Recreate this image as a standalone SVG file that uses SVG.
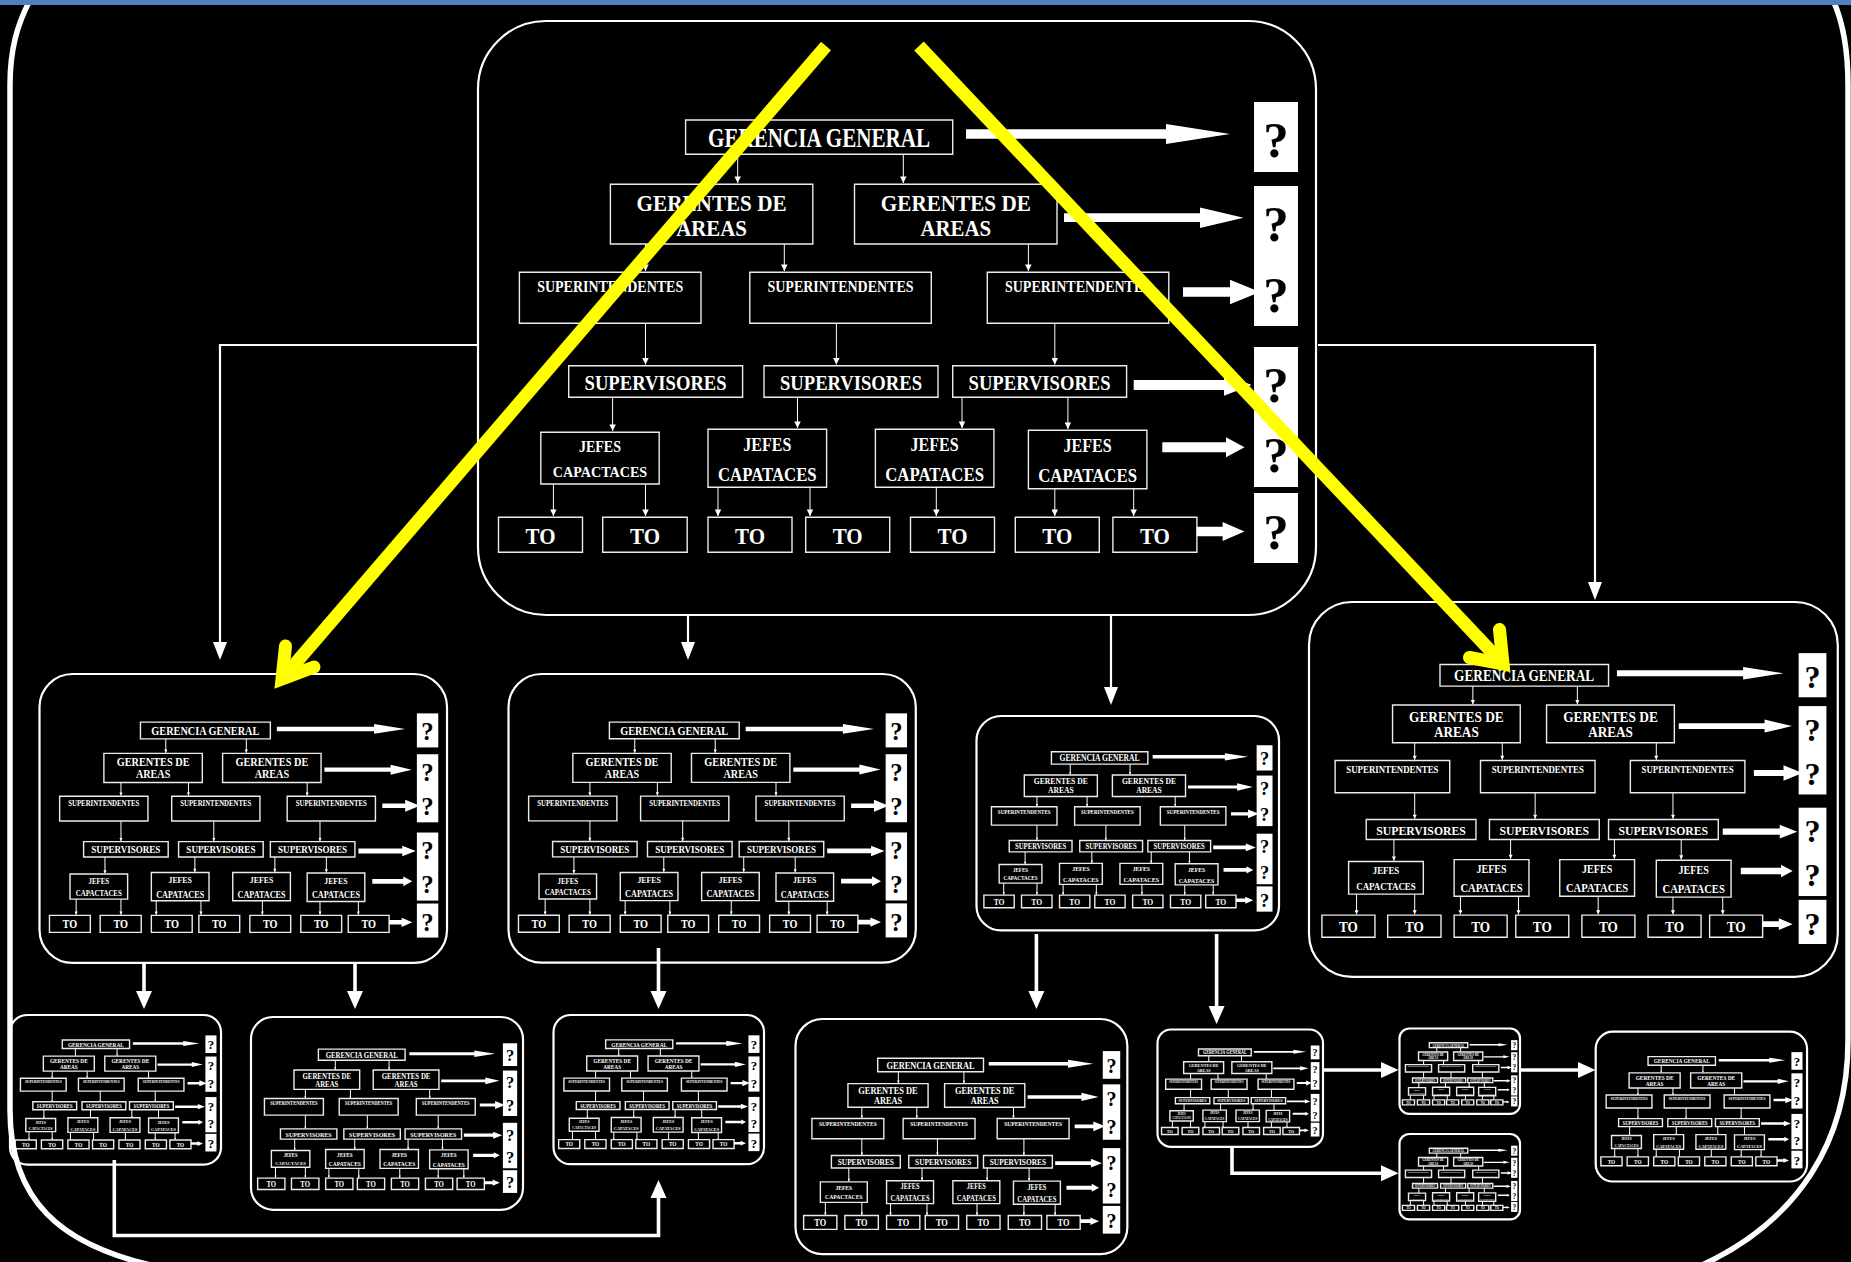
<svg xmlns="http://www.w3.org/2000/svg" width="1851" height="1262" viewBox="0 0 1851 1262">
<defs>
<style>
.bg{fill:#000}
.panel{fill:#000;stroke:#fff;stroke-width:2.2;vector-effect:non-scaling-stroke}
.bx{fill:#000;stroke:#ececec;stroke-width:1.4;vector-effect:non-scaling-stroke}
.t{font-family:"Liberation Serif","Times New Roman",serif;font-weight:bold;fill:#fff;text-anchor:middle}
.qb{fill:#fff}
.qt{font-family:"Liberation Serif","Times New Roman",serif;font-weight:bold;fill:#000;text-anchor:middle;font-size:51px}
.ba{fill:#fff}
.ln{stroke:#fff;stroke-width:1;fill:none;vector-effect:non-scaling-stroke}
.cn{stroke:#fff;stroke-width:2.2;fill:none}
.ck{stroke:#fff;stroke-width:3.6;fill:none}
.ah{fill:#fff}
.frame{fill:none;stroke:#fff;stroke-width:5.5}
.yl{fill:none;stroke:#ffff00;stroke-width:13}
</style>
<marker id="sm" viewBox="0 0 10 10" refX="10" refY="5" markerWidth="8" markerHeight="6.5" orient="auto" markerUnits="userSpaceOnUse">
<path d="M0,0 L10,5 L0,10 z" fill="#fff"/>
</marker>
</defs>
<rect class="bg" x="0" y="0" width="1851" height="1262"/>

<g id="chart-main">
<rect class="panel" x="478" y="21" width="838" height="594" rx="68" ry="68"/>
<g id="inner-links">
<line class="ln" x1="737.7" y1="154.3" x2="737.7" y2="183" marker-end="url(#sm)"/>
<line class="ln" x1="903.3" y1="154.3" x2="903.3" y2="183" marker-end="url(#sm)"/>
<line class="ln" x1="645.5" y1="244" x2="645.5" y2="271" marker-end="url(#sm)"/>
<line class="ln" x1="784.3" y1="244" x2="784.3" y2="271" marker-end="url(#sm)"/>
<line class="ln" x1="1028.4" y1="244" x2="1028.4" y2="271" marker-end="url(#sm)"/>
<line class="ln" x1="645.5" y1="323.3" x2="645.5" y2="364.5" marker-end="url(#sm)"/>
<line class="ln" x1="836.4" y1="323.3" x2="836.4" y2="364.5" marker-end="url(#sm)"/>
<line class="ln" x1="1054.8" y1="323.3" x2="1054.8" y2="364.5" marker-end="url(#sm)"/>
<line class="ln" x1="612.6" y1="397.3" x2="612.6" y2="431" marker-end="url(#sm)"/>
<line class="ln" x1="797.5" y1="397.3" x2="797.5" y2="428" marker-end="url(#sm)"/>
<line class="ln" x1="962" y1="397.3" x2="962" y2="428" marker-end="url(#sm)"/>
<line class="ln" x1="1067.9" y1="397.3" x2="1067.9" y2="429" marker-end="url(#sm)"/>
<line class="ln" x1="553.4" y1="484" x2="553.4" y2="516" marker-end="url(#sm)"/>
<line class="ln" x1="645.5" y1="484" x2="645.5" y2="516" marker-end="url(#sm)"/>
<line class="ln" x1="718" y1="487.3" x2="718" y2="516" marker-end="url(#sm)"/>
<line class="ln" x1="810" y1="487.3" x2="810" y2="516" marker-end="url(#sm)"/>
<line class="ln" x1="936.3" y1="487.3" x2="936.3" y2="516" marker-end="url(#sm)"/>
<line class="ln" x1="1054.8" y1="488.7" x2="1054.8" y2="516" marker-end="url(#sm)"/>
<line class="ln" x1="1133.7" y1="488.7" x2="1133.7" y2="516" marker-end="url(#sm)"/>
</g>
<g id="gg"><rect class="bx" x="685.6" y="120" width="267.1" height="34.3"/><text class="t" x="819" y="146.7" font-size="27.5" textLength="222" lengthAdjust="spacingAndGlyphs">GERENCIA GENERAL</text></g>
<g id="ga1"><rect class="bx" x="610.4" y="184.3" width="202.4" height="59.7"/><text class="t" x="711.6" y="210.7" font-size="23.5" textLength="150" lengthAdjust="spacingAndGlyphs">GERENTES DE</text><text class="t" x="711.6" y="235.7" font-size="23.5" textLength="70.8" lengthAdjust="spacingAndGlyphs">AREAS</text></g>
<g id="ga2"><rect class="bx" x="854.5" y="184.3" width="202.5" height="59.7"/><text class="t" x="955.8" y="210.7" font-size="23.5" textLength="150" lengthAdjust="spacingAndGlyphs">GERENTES DE</text><text class="t" x="955.8" y="235.7" font-size="23.5" textLength="70.8" lengthAdjust="spacingAndGlyphs">AREAS</text></g>
<g id="sup1"><rect class="bx" x="519.4" y="272.3" width="181.6" height="51"/><text class="t" x="610.2" y="291.7" font-size="16" textLength="146" lengthAdjust="spacingAndGlyphs">SUPERINTENDENTES</text></g>
<g id="sup2"><rect class="bx" x="749.8" y="272.3" width="181.5" height="51"/><text class="t" x="840.5" y="291.7" font-size="16" textLength="146" lengthAdjust="spacingAndGlyphs">SUPERINTENDENTES</text></g>
<g id="sup3"><rect class="bx" x="987.3" y="272.3" width="181.5" height="51"/><text class="t" x="1078" y="291.7" font-size="16" textLength="146" lengthAdjust="spacingAndGlyphs">SUPERINTENDENTES</text></g>
<g id="sv1"><rect class="bx" x="568.7" y="365.7" width="173.9" height="31.6"/><text class="t" x="655.6" y="390" font-size="21" textLength="142" lengthAdjust="spacingAndGlyphs">SUPERVISORES</text></g>
<g id="sv2"><rect class="bx" x="764" y="365.7" width="174" height="31.6"/><text class="t" x="851" y="390" font-size="21" textLength="142" lengthAdjust="spacingAndGlyphs">SUPERVISORES</text></g>
<g id="sv3"><rect class="bx" x="952.7" y="365.7" width="173.9" height="31.6"/><text class="t" x="1039.6" y="390" font-size="21" textLength="142" lengthAdjust="spacingAndGlyphs">SUPERVISORES</text></g>
<g id="jf1"><rect class="bx" x="540.8" y="432.3" width="118.4" height="51.7"/><text class="t" x="600" y="452.3" font-size="17" textLength="42" lengthAdjust="spacingAndGlyphs">JEFES</text><text class="t" x="600" y="476.7" font-size="15.5" textLength="94.4" lengthAdjust="spacingAndGlyphs">CAPACTACES</text></g>
<g id="jf2"><rect class="bx" x="708" y="429.3" width="118.6" height="58"/><text class="t" x="767.3" y="451" font-size="19" textLength="48" lengthAdjust="spacingAndGlyphs">JEFES</text><text class="t" x="767.3" y="480.7" font-size="19.5" textLength="98.7" lengthAdjust="spacingAndGlyphs">CAPATACES</text></g>
<g id="jf3"><rect class="bx" x="875.4" y="429.3" width="118.5" height="58"/><text class="t" x="934.6" y="451" font-size="19" textLength="48" lengthAdjust="spacingAndGlyphs">JEFES</text><text class="t" x="934.6" y="480.7" font-size="19.5" textLength="98.7" lengthAdjust="spacingAndGlyphs">CAPATACES</text></g>
<g id="jf4"><rect class="bx" x="1028.4" y="430.3" width="118.5" height="58.4"/><text class="t" x="1087.6" y="452" font-size="19" textLength="48" lengthAdjust="spacingAndGlyphs">JEFES</text><text class="t" x="1087.6" y="482.3" font-size="19.5" textLength="98.7" lengthAdjust="spacingAndGlyphs">CAPATACES</text></g>
<g id="to1"><rect class="bx" x="498.5" y="517.3" width="84" height="35"/><text class="t" x="540.5" y="544" font-size="23.5" textLength="30" lengthAdjust="spacingAndGlyphs">TO</text></g>
<g id="to2"><rect class="bx" x="602.7" y="517.3" width="84.5" height="35"/><text class="t" x="645" y="544" font-size="23.5" textLength="30" lengthAdjust="spacingAndGlyphs">TO</text></g>
<g id="to3"><rect class="bx" x="708" y="517.3" width="84" height="35"/><text class="t" x="750" y="544" font-size="23.5" textLength="30" lengthAdjust="spacingAndGlyphs">TO</text></g>
<g id="to4"><rect class="bx" x="805.7" y="517.3" width="84" height="35"/><text class="t" x="847.7" y="544" font-size="23.5" textLength="30" lengthAdjust="spacingAndGlyphs">TO</text></g>
<g id="to5"><rect class="bx" x="910.5" y="517.3" width="84" height="35"/><text class="t" x="952.5" y="544" font-size="23.5" textLength="30" lengthAdjust="spacingAndGlyphs">TO</text></g>
<g id="to6"><rect class="bx" x="1015.3" y="517.3" width="84" height="35"/><text class="t" x="1057.3" y="544" font-size="23.5" textLength="30" lengthAdjust="spacingAndGlyphs">TO</text></g>
<g id="to7"><rect class="bx" x="1112.9" y="517.3" width="84" height="35"/><text class="t" x="1154.9" y="544" font-size="23.5" textLength="30" lengthAdjust="spacingAndGlyphs">TO</text></g>
<g id="level-arrows">
<polygon class="ba" points="966,129.3 1166,129.3 1166,124 1230,134 1166,144 1166,138.7 966,138.7"/>
<polygon class="ba" points="1064,213.3 1200,213.3 1200,207.4 1243.5,217.7 1200,228 1200,222.1 1064,222.1"/>
<polygon class="ba" points="1183,287.3 1230,287.3 1230,279.7 1260,292 1230,304.3 1230,296.7 1183,296.7"/>
<polygon class="ba" points="1133.7,380 1224,380 1224,374.2 1251.7,385 1224,395.8 1224,390 1133.7,390"/>
<polygon class="ba" points="1162.3,442.3 1226,442.3 1226,437.3 1244.5,447.3 1226,457.3 1226,452.3 1162.3,452.3"/>
<polygon class="ba" points="1196.8,526.8 1222.6,526.8 1222.6,522 1244.5,531.5 1222.6,541 1222.6,536.2 1196.8,536.2"/>
</g>
<g id="questions">
<rect class="qb" x="1254" y="102" width="44" height="70"/>
<rect class="qb" x="1254" y="186" width="44" height="140"/>
<rect class="qb" x="1254" y="347" width="44" height="140"/>
<rect class="qb" x="1254" y="493" width="44" height="70"/>
<text class="qt" x="1276" y="156.7">?</text>
<text class="qt" x="1276" y="240.7">?</text>
<text class="qt" x="1276" y="311.7">?</text>
<text class="qt" x="1276" y="401.7">?</text>
<text class="qt" x="1276" y="471.7">?</text>
<text class="qt" x="1276" y="549.3">?</text>
</g>
</g>

<g id="copies">
<use id="chart-a" href="#chart-main" transform="translate(-192.95,663.79) scale(0.4863)"/>
<use id="chart-b" href="#chart-main" transform="translate(276.2,663.8) scale(0.486)"/>
<use id="chart-c" href="#chart-main" transform="translate(803.94,708.42) scale(0.361)"/>
<use id="chart-d" href="#chart-main" transform="translate(1007.38,588.75) scale(0.631)"/>
<use id="chart-e" href="#chart-main" transform="translate(-110.36,1009.71) scale(0.2518)"/>
<use id="chart-f" href="#chart-main" transform="translate(95.84,1010.18) scale(0.3246)"/>
<use id="chart-g" href="#chart-main" transform="translate(433.43,1009.72) scale(0.2512)"/>
<use id="chart-h" href="#chart-main" transform="translate(606.21,1010.68) scale(0.396)"/>
<use id="chart-i" href="#chart-main" transform="translate(1063.09,1025.35) scale(0.1975)"/>
<use id="chart-j" href="#chart-main" transform="translate(1330.76,1025.48) scale(0.1438)"/>
<use id="chart-k" href="#chart-main" transform="translate(1330.76,1130.98) scale(0.1438)"/>
<use id="chart-l" href="#chart-main" transform="translate(1475.15,1026.4) scale(0.2522)"/>
</g>

<g id="connectors">
<polyline class="cn" points="478,345 220,345 220,643"/>
<polygon class="ah" points="213,642 227,642 220,660"/>
<line class="cn" x1="688" y1="616" x2="688" y2="643"/>
<polygon class="ah" points="681,642 695,642 688,660"/>
<line class="cn" x1="1111" y1="616" x2="1111" y2="688"/>
<polygon class="ah" points="1104,687 1118,687 1111,705"/>
<polyline class="cn" points="1318,345 1595,345 1595,583"/>
<polygon class="ah" points="1588,582 1602,582 1595,600"/>
<line class="ck" x1="144" y1="963" x2="144" y2="992"/>
<polygon class="ah" points="136,991 152,991 144,1009"/>
<line class="ck" x1="355" y1="963" x2="355" y2="992"/>
<polygon class="ah" points="347,991 363,991 355,1009"/>
<line class="ck" x1="658.5" y1="948" x2="658.5" y2="992"/>
<polygon class="ah" points="650.5,991 666.5,991 658.5,1009"/>
<line class="ck" x1="1036.4" y1="934" x2="1036.4" y2="992"/>
<polygon class="ah" points="1028.4,991 1044.4,991 1036.4,1009"/>
<line class="ck" x1="1216.6" y1="934" x2="1216.6" y2="1007"/>
<polygon class="ah" points="1208.6,1006 1224.6,1006 1216.6,1024"/>
<line class="ck" x1="1323.7" y1="1070" x2="1382" y2="1070"/>
<polygon class="ah" points="1381,1062 1381,1078 1398.5,1070"/>
<polyline class="ck" points="1232,1147 1232,1173.3 1382,1173.3"/>
<polygon class="ah" points="1381,1165.3 1381,1181.3 1398.5,1173.3"/>
<line class="ck" x1="1520" y1="1070" x2="1579" y2="1070"/>
<polygon class="ah" points="1578,1062 1578,1078 1595.5,1070"/>
<polyline class="ck" points="114.3,1160 114.3,1235.5 658.5,1235.5 658.5,1197"/>
<polygon class="ah" points="650.5,1198 666.5,1198 658.5,1180"/>
</g>

<g id="outer-frame">
<path class="frame" d="M30,0 C17,25 10,50 10,85 L10,1110 C10,1200 60,1245 155,1266"/>
<path class="frame" d="M1833,0 C1843,22 1848,48 1848,85 L1848,1040 C1848,1140 1800,1220 1700,1266"/>
</g>
<rect id="top-bar" x="0" y="0" width="1851" height="5" fill="#4f81bd"/>

<g id="yellow-arrows">
<path class="yl" d="M826,46 L282,679"/>
<path class="yl" d="M285.5,646 L282,679 L314,667" stroke-linecap="round" stroke-linejoin="miter"/>
<path class="yl" d="M919,46 L1503,664"/>
<path class="yl" d="M1499.5,629.5 L1503,664 L1469.5,657.5" stroke-linecap="round" stroke-linejoin="miter"/>
</g>
</svg>
